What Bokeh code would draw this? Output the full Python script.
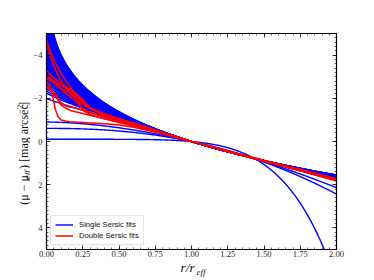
import numpy as np
from bokeh.plotting import figure
from bokeh.layouts import row, column
from bokeh.models import Range1d, FixedTicker, LinearAxis, Label, ColumnDataSource
from bokeh.embed import file_html
from bokeh.resources import INLINE

# ---- data ----
# Sersic indices of the single-Sersic fits (profiles normalised at r_eff)
sersic_n = [0.166, 0.43, 0.57, 1.08,
            1.20, 1.25, 1.30, 1.35, 1.40, 1.45, 1.50, 1.55, 1.60, 1.65, 1.70,
            1.75, 1.80, 1.85, 1.90, 1.95, 2.00, 2.05, 2.10, 2.15, 2.20, 2.25,
            2.30, 2.35, 2.40, 2.45, 2.50, 2.60, 2.70, 2.80, 2.90, 3.00, 3.15,
            3.30, 3.45, 3.60, 3.80, 4.00, 4.25, 4.50, 4.75, 5.00, 5.33, 5.66, 6.00]

# double-Sersic fit profiles, read at these radii
red_r = [0.0, 0.02, 0.04, 0.06, 0.08, 0.10, 0.13, 0.16, 0.20, 0.25, 0.30,
         0.40, 0.50, 0.60, 0.80, 1.00, 1.25, 1.50, 1.75, 2.00]
red_mu = [
    [-4.70, -4.30, -3.95, -3.65, -3.40, -3.15, -2.85, -2.55, -2.20, -1.85, -1.58, -1.28, -1.06, -0.86, -0.43, 0.0, 0.46, 0.90, 1.33, 1.76],
    [-4.60, -4.10, -3.70, -3.35, -3.05, -2.80, -2.50, -2.25, -1.98, -1.72, -1.52, -1.25, -1.03, -0.84, -0.42, 0.0, 0.48, 0.92, 1.35, 1.80],
    [-3.30, -3.15, -3.00, -2.90, -2.80, -2.70, -2.55, -2.40, -2.15, -1.80, -1.55, -1.27, -1.05, -0.85, -0.42, 0.0, 0.46, 0.90, 1.32, 1.74],
    [-3.00, -2.95, -2.85, -2.75, -2.60, -2.45, -2.25, -2.10, -1.85, -1.55, -1.35, -1.15, -0.95, -0.76, -0.38, 0.0, 0.45, 0.88, 1.30, 1.72],
    [-2.90, -2.85, -2.75, -2.65, -2.55, -2.45, -2.35, -2.30, -2.05, -1.45, -1.25, -1.05, -0.88, -0.72, -0.37, 0.0, 0.45, 0.89, 1.31, 1.74],
    [-2.95, -2.90, -2.82, -2.75, -2.68, -2.60, -2.50, -2.40, -2.25, -1.95, -1.55, -1.20, -1.00, -0.80, -0.40, 0.0, 0.46, 0.90, 1.34, 1.80],
    [-2.75, -2.60, -2.20, -1.50, -1.15, -1.00, -0.95, -0.92, -0.90, -0.88, -0.86, -0.82, -0.76, -0.66, -0.36, 0.0, 0.44, 0.87, 1.30, 1.76],
    [-2.60, -2.50, -2.35, -2.15, -1.90, -1.70, -1.55, -1.45, -1.38, -1.30, -1.22, -1.05, -0.90, -0.74, -0.38, 0.0, 0.45, 0.90, 1.33, 1.78],
    [-2.50, -2.45, -2.35, -2.20, -2.00, -1.80, -1.65, -1.60, -1.55, -1.45, -1.35, -1.15, -0.95, -0.78, -0.39, 0.0, 0.45, 0.90, 1.35, 1.83],
]

x_ticks = [0.0, 0.25, 0.5, 0.75, 1.0, 1.25, 1.5, 1.75, 2.0]
x_tick_labels = ["0.00", "0.25", "0.50", "0.75", "1.00", "1.25", "1.50", "1.75", "2.00"]
y_ticks = [-4, -2, 0, 2, 4]
y_tick_labels = ["\u22124", "\u22122", "0", "2", "4"]

# ---- Sersic model ----
r_grid = np.linspace(0.0, 2.0, 801)


def b_n(n):
    if n >= 0.36:
        return 2 * n - 1 / 3 + 4 / (405 * n) + 46 / (25515 * n ** 2)
    return 0.01945 - 0.8902 * n + 10.95 * n ** 2 - 19.67 * n ** 3 + 13.43 * n ** 4


def sersic_profile(n):
    return 2.5 * b_n(n) / np.log(10) * (r_grid ** (1.0 / n) - 1.0)


blue_src = ColumnDataSource(dict(xs=[r_grid for _ in sersic_n],
                                 ys=[sersic_profile(n) for n in sersic_n]))
red_src = ColumnDataSource(dict(xs=[red_r for _ in red_mu], ys=red_mu))

TOP_H = 260
p = figure(width=344, height=TOP_H, x_range=Range1d(0, 2), y_range=Range1d(5, -5),
           output_backend="svg", toolbar_location=None,
           min_border_left=16, min_border_right=38, min_border_top=33, min_border_bottom=11)
p.background_fill_color = "white"
p.border_fill_color = "white"
p.outline_line_color = "black"
p.outline_line_width = 1.2
p.grid.visible = False

p.multi_line("xs", "ys", source=blue_src, line_color="#0000ff", line_width=1.4,
             legend_label="Single Sersic fits")
p.multi_line("xs", "ys", source=red_src, line_color="#ff0000", line_width=1.5,
             legend_label="Double Sersic fits")

xt = FixedTicker(ticks=x_ticks, minor_ticks=[round(0.05 * i, 2) for i in range(41)])
yt = FixedTicker(ticks=y_ticks, minor_ticks=[round(-5 + 0.2 * i, 1) for i in range(51)])


def style(ax):
    ax.major_tick_in = 4
    ax.major_tick_out = 0
    ax.minor_tick_in = 2
    ax.minor_tick_out = 0
    ax.axis_line_color = "black"
    ax.major_tick_line_color = "black"
    ax.minor_tick_line_color = "black"
    ax.major_tick_line_width = 0.8
    ax.minor_tick_line_width = 0.6
    ax.major_label_text_font = "Liberation Serif"
    ax.major_label_text_font_size = "8.5px"
    ax.major_label_text_color = "#222222"


p.xaxis.ticker = xt
p.yaxis.ticker = yt
p.xaxis.major_label_overrides = {t: l for t, l in zip(x_ticks, x_tick_labels)}
p.yaxis.major_label_overrides = {t: l for t, l in zip(y_ticks, y_tick_labels)}
style(p.xaxis[0])
style(p.yaxis[0])
p.xaxis.major_label_standoff = 1
p.yaxis.major_label_standoff = 4

top = LinearAxis(ticker=xt, major_label_overrides={t: "" for t in x_ticks})
style(top)
p.add_layout(top, "above")
right = LinearAxis(ticker=yt, major_label_overrides={t: "" for t in y_ticks})
style(right)
p.add_layout(right, "right")

lg = p.legend[0]
lg.location = "bottom_left"
lg.margin = 4
lg.padding = 4
lg.spacing = 2
lg.label_height = 9
lg.glyph_height = 9
lg.glyph_width = 18
lg.label_standoff = 6
lg.label_text_font = "Liberation Sans"
lg.label_text_font_size = "7.7px"
lg.label_text_color = "#111111"
lg.border_line_color = "#cccccc"
lg.border_line_width = 0.8
lg.background_fill_alpha = 0.85

serif = "Liberation Serif"


def label_panel(w, h):
    f = figure(width=w, height=h, x_range=Range1d(0, w), y_range=Range1d(h, 0),
               output_backend="svg", toolbar_location=None,
               x_axis_type=None, y_axis_type=None,
               min_border_left=0, min_border_right=0, min_border_top=0, min_border_bottom=0)
    f.outline_line_color = None
    f.background_fill_color = "white"
    f.border_fill_color = "white"
    return f


# y-axis label (pixel positions inside a 30 px wide strip)
fy = label_panel(30, TOP_H)
ylab_x = 23
ypieces = [
    ("(\u03bc \u2212 \u03bc", ylab_x, 206, "12px", "normal"),
    ("eff", ylab_x + 3, 175, "8.5px", "italic"),
    (") [mag arcsec", ylab_x, 163, "12px", "normal"),
    ("\u22122", ylab_x - 4, 96.5, "8.5px", "normal"),
    ("]", ylab_x, 87, "12px", "normal"),
]
for txt, xx, yy, fs, st in ypieces:
    fy.add_layout(Label(x=xx, y=yy, text=txt, angle=np.pi / 2, text_align="left",
                        text_baseline="middle", text_font=serif, text_font_size=fs,
                        text_font_style=st, text_color="#111111"))

# x-axis label (strip below the plot)
fx = label_panel(374, 280 - TOP_H)
fx.add_layout(Label(x=180, y=267 - TOP_H, text="r/r", text_align="left", text_baseline="middle",
                    text_font=serif, text_font_size="13.5px", text_font_style="italic",
                    text_color="#111111"))
fx.add_layout(Label(x=196, y=271.5 - TOP_H, text="eff", text_align="left", text_baseline="middle",
                    text_font=serif, text_font_size="9px", text_font_style="italic",
                    text_color="#111111"))

layout = column(row(fy, p, spacing=0), fx, spacing=0)
open("out.html", "w").write(file_html(layout, INLINE))
